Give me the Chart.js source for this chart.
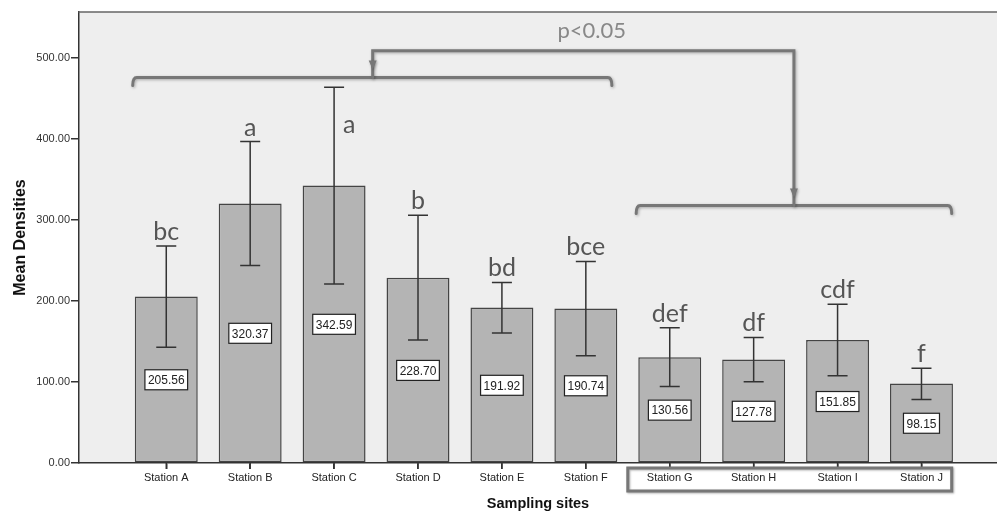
<!DOCTYPE html>
<html>
<head>
<meta charset="utf-8">
<script src="https://cdn.jsdelivr.net/npm/chart.js@4"></script>
<style>
html, body { margin: 0; padding: 0; background: #fff; overflow: hidden; }
#wrap { width: 997px; height: 516px; }
</style>
</head>
<body>
<div id="wrap"><canvas id="chart"></canvas></div>
<script>
// Mean densities per sampling site (SPSS style bar chart with error bars)
const stations = ['Station A', 'Station B', 'Station C', 'Station D', 'Station E',
                  'Station F', 'Station G', 'Station H', 'Station I', 'Station J'];
const means   = [205.56, 320.37, 342.59, 228.70, 191.92, 190.74, 130.56, 127.78, 151.85, 98.15];
const errLow  = [143, 244, 221, 152, 160.5, 132.5, 94.4, 100.5, 107.9, 78.4];
const errHigh = [268, 397, 464, 306, 223, 249, 167, 155, 196, 117];
const letters = ['bc', 'a', 'a', 'b', 'bd', 'bce', 'def', 'df', 'cdf', 'f'];
const yTicks  = [0, 100, 200, 300, 400, 500];

// annotation placement, in axis units
const notes = {
    leftGroup:  { from: -0.40, to: 5.31, at: 476 },
    rightGroup: { from: 5.60,  to: 9.36, at: 318 },
    link:       { from: 2.46,  to: 7.48, at: 509 },
    pText:      { x: 5.07, y: 525, text: 'p<0.05' },
    labelBox:   { from: 5.5,   to: 9.36 },
    letterShift: { 2: { y: 407, dx: 15 } }
};

const GREY = '#777';

function bracket(ctx, xs, ys, b) {
    const x1 = xs.getPixelForValue(b.from), x2 = xs.getPixelForValue(b.to);
    const y = ys.getPixelForValue(b.at);
    ctx.beginPath();
    ctx.moveTo(x1, y + 8);
    ctx.quadraticCurveTo(x1, y, x1 + 4, y);
    ctx.lineTo(x2 - 4, y);
    ctx.quadraticCurveTo(x2, y, x2, y + 8);
    ctx.stroke();
}

function arrowDown(ctx, x, yTarget) {
    ctx.beginPath();
    ctx.moveTo(x - 4, yTarget - 17);
    ctx.lineTo(x + 4, yTarget - 17);
    ctx.lineTo(x, yTarget - 8);
    ctx.closePath();
    ctx.fill();
}

const decor = {
    id: 'decor',
    beforeDraw(chart) {
        const { ctx, chartArea: a } = chart;
        ctx.save();
        ctx.fillStyle = '#eeeeee';
        ctx.fillRect(a.left, a.top, a.right - a.left, a.bottom - a.top);
        ctx.restore();
    },
    afterDatasetsDraw(chart) {
        const { ctx, chartArea: a } = chart;
        const xs = chart.scales.x, ys = chart.scales.y;
        ctx.save();

        // error bars
        ctx.strokeStyle = '#333';
        ctx.lineWidth = 1.5;
        stations.forEach((s, i) => {
            const x = xs.getPixelForValue(i);
            const hi = ys.getPixelForValue(errHigh[i]);
            const lo = ys.getPixelForValue(errLow[i]);
            ctx.beginPath();
            ctx.moveTo(x, hi); ctx.lineTo(x, lo);
            ctx.moveTo(x - 10, hi); ctx.lineTo(x + 10, hi);
            ctx.moveTo(x - 10, lo); ctx.lineTo(x + 10, lo);
            ctx.stroke();
        });

        // value boxes
        ctx.font = '12px "Liberation Sans", Arial, sans-serif';
        ctx.textAlign = 'center';
        ctx.textBaseline = 'middle';
        stations.forEach((s, i) => {
            const txt = means[i].toFixed(2);
            const x = xs.getPixelForValue(i);
            const y = ys.getPixelForValue(means[i] / 2);
            const w = ctx.measureText(txt).width + 6;
            ctx.fillStyle = '#fff';
            ctx.fillRect(x - w / 2, y - 10, w, 20);
            ctx.strokeStyle = '#222';
            ctx.lineWidth = 1.2;
            ctx.strokeRect(x - w / 2, y - 10, w, 20);
            ctx.fillStyle = '#222';
            ctx.fillText(txt, x, y + 1);
        });

        // significance letters
        ctx.font = '25px Lato, sans-serif';
        ctx.fillStyle = '#555';
        ctx.textBaseline = 'alphabetic';
        stations.forEach((s, i) => {
            const shift = notes.letterShift[i];
            const x = xs.getPixelForValue(i) + (shift ? shift.dx : 0);
            const y = shift ? ys.getPixelForValue(shift.y) : ys.getPixelForValue(errHigh[i]) - 6;
            ctx.fillText(letters[i], x, y);
        });

        // group brackets and link arrows
        ctx.strokeStyle = GREY;
        ctx.fillStyle = GREY;
        ctx.lineWidth = 3;
        ctx.lineCap = 'round';
        ctx.shadowColor = 'rgba(0,0,0,0.3)';
        ctx.shadowBlur = 3;
        ctx.shadowOffsetX = 1;
        ctx.shadowOffsetY = 1;
        bracket(ctx, xs, ys, notes.leftGroup);
        bracket(ctx, xs, ys, notes.rightGroup);
        const lx1 = xs.getPixelForValue(notes.link.from);
        const lx2 = xs.getPixelForValue(notes.link.to);
        const ly = ys.getPixelForValue(notes.link.at);
        const t1 = ys.getPixelForValue(notes.leftGroup.at);
        const t2 = ys.getPixelForValue(notes.rightGroup.at);
        ctx.beginPath();
        ctx.moveTo(lx1, t1);
        ctx.lineTo(lx1, ly);
        ctx.lineTo(lx2, ly);
        ctx.lineTo(lx2, t2);
        ctx.stroke();
        arrowDown(ctx, lx1, t1);
        arrowDown(ctx, lx2, t2);
        ctx.shadowColor = 'transparent';

        ctx.font = '22px Lato, sans-serif';
        ctx.fillStyle = '#888';
        ctx.textAlign = 'center';
        ctx.fillText(notes.pText.text, xs.getPixelForValue(notes.pText.x), ys.getPixelForValue(notes.pText.y));

        // frame top
        ctx.strokeStyle = '#666';
        ctx.lineWidth = 1.5;
        ctx.beginPath();
        ctx.moveTo(a.left, a.top);
        ctx.lineTo(a.right, a.top);
        ctx.stroke();
        ctx.restore();
    },
    afterDraw(chart) {
        const { ctx, chartArea: a } = chart;
        const xs = chart.scales.x;
        const x1 = xs.getPixelForValue(notes.labelBox.from);
        const x2 = xs.getPixelForValue(notes.labelBox.to);
        ctx.save();
        // tick marks under each station
        ctx.strokeStyle = '#333';
        ctx.lineWidth = 1.5;
        stations.forEach((s, i) => {
            const x = xs.getPixelForValue(i);
            ctx.beginPath();
            ctx.moveTo(x, a.bottom);
            ctx.lineTo(x, a.bottom + 6);
            ctx.stroke();
        });
        ctx.strokeStyle = GREY;
        ctx.lineWidth = 3;
        ctx.shadowColor = 'rgba(0,0,0,0.3)';
        ctx.shadowBlur = 2;
        ctx.shadowOffsetX = 1;
        ctx.shadowOffsetY = 1;
        ctx.strokeRect(x1, a.bottom + 5, x2 - x1, 23);
        ctx.restore();
    }
};

new Chart(document.getElementById('chart'), {
    type: 'bar',
    data: {
        datasets: [{
            data: stations.map((s, i) => ({ x: i, y: means[i] })),
            backgroundColor: '#b4b4b4',
            borderColor: '#444',
            borderWidth: 1.5,
            borderSkipped: false,
            barPercentage: 0.75,
            categoryPercentage: 1
        }]
    },
    options: {
        responsive: true,
        maintainAspectRatio: false,
        animation: false,
        devicePixelRatio: 1,
        layout: { padding: { top: 12, right: 0, left: 0, bottom: 0 } },
        plugins: {
            legend: { display: false },
            tooltip: { enabled: false }
        },
        scales: {
            x: {
                type: 'linear',
                offset: false,
                min: -1.04,
                max: 9.9,
                afterFit: s => { s.height = 53; },
                afterBuildTicks: s => { s.ticks = stations.map((_, i) => ({ value: i })); },
                ticks: {
                    callback: v => stations[v] ?? '',
                    autoSkip: false,
                    maxRotation: 0,
                    padding: 2,
                    color: '#222',
                    font: { family: '"Liberation Sans", Arial, sans-serif', size: 11 }
                },
                grid: { offset: false, drawOnChartArea: false, tickLength: 6, color: '#333', lineWidth: 1.5 },
                border: { color: '#333', width: 1.5 },
                title: {
                    display: true,
                    text: 'Sampling sites',
                    color: '#111',
                    padding: { top: 0, bottom: 3 },
                    font: { family: '"Liberation Sans", Arial, sans-serif', size: 14.5, weight: 'bold' }
                }
            },
            y: {
                min: 0,
                max: 557,
                afterFit: s => { s.width = 79; },
                afterBuildTicks: s => { s.ticks = yTicks.map(v => ({ value: v })); },
                ticks: {
                    callback: v => v.toFixed(2),
                    padding: 1,
                    color: '#333',
                    font: { family: '"Liberation Sans", Arial, sans-serif', size: 11 }
                },
                grid: { drawOnChartArea: false, tickLength: 8, color: '#333', lineWidth: 1.5 },
                border: { color: '#333', width: 1.5 },
                title: {
                    display: true,
                    text: 'Mean Densities',
                    color: '#111',
                    padding: { top: 11, bottom: 0 },
                    font: { family: '"Liberation Sans", Arial, sans-serif', size: 16, weight: 'bold' }
                }
            }
        }
    },
    plugins: [decor]
});
</script>
</body>
</html>
